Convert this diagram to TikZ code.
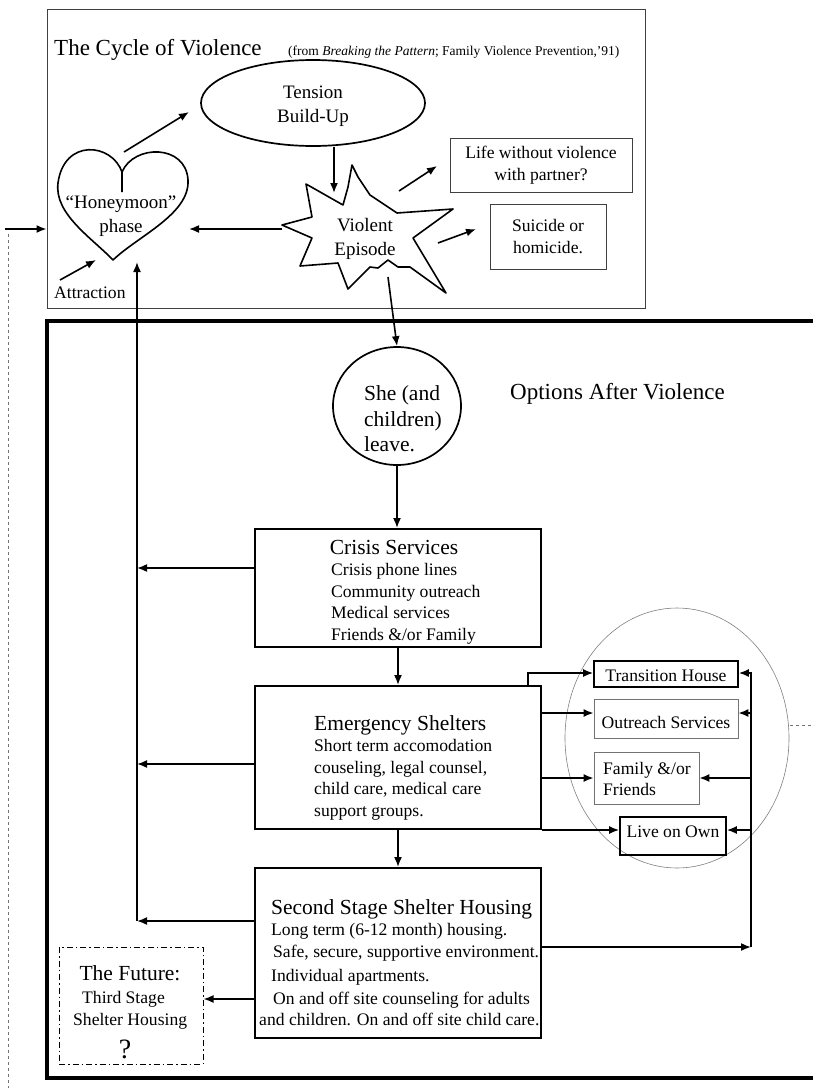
\documentclass[tikz,border=0pt]{standalone}
\usepackage{fontspec}
\setmainfont{Liberation Serif}
\usetikzlibrary{arrows.meta,shapes.geometric}
\newcommand{\fbody}{\fontsize{17.6}{21.6}\selectfont}
\newcommand{\fhead}{\fontsize{21.5}{25.5}\selectfont}
\newcommand{\fbig}{\fontsize{23}{27}\selectfont}
\newcommand{\fcyc}{\fontsize{19}{23.5}\selectfont}
\newcommand{\fsmall}{\fontsize{13.5}{16}\selectfont}
\newcommand{\fq}{\fontsize{28}{30}\selectfont}
\tikzset{
 arr/.style={-{Latex[length=10pt,width=8pt]}, line width=1.6pt},
 thinbox/.style={draw=black!75, line width=0.9pt, inner sep=0pt},
 graybox/.style={draw=black!55, line width=0.8pt, inner sep=0pt},
 medbox/.style={draw, line width=1.7pt, inner sep=0pt},
 bigbox/.style={draw, line width=2pt, inner sep=0pt},
 grayline/.style={draw=black!50, line width=0.6pt},
 txt/.style={inner sep=0pt},
 outline/.style={line width=1.6pt, line join=round},
}
\begin{document}
\begin{tikzpicture}[x=1pt,y=-1pt]
\useasboundingbox (0,0) rectangle (813,1088);
\clip (0,0) rectangle (813,1088);
\fill[white] (0,0) rectangle (813,1088);

% ---------- cycle of violence ----------
\node[thinbox, minimum width=598pt, minimum height=299pt] (cycle) at (346,158.5) {};
\node[txt, anchor=base west, font=\fbig] (title) at (54,55) {The Cycle of Violence};
\node[txt, anchor=base west, font=\fsmall] (src) at (288,55) {(from \textit{Breaking the Pattern}; Family Violence Prevention,’91)};

\node[ellipse, draw, line width=1.7pt, minimum width=224pt, minimum height=86pt, inner sep=0pt] (tension) at (313,103) {};
\node[txt, align=center, font=\fcyc] (tensiontxt) at (313,106) {Tension\\Build-Up};

% heart
\draw[outline] (122,172) .. controls (112,143) and (64,138) .. (58,183)
  .. controls (54,214) and (92,238) .. (113,260)
  .. controls (138,236) and (190,214) .. (188,180)
  .. controls (186,144) and (134,144) .. (122,172) -- (122,192);
\node[txt, align=center, font=\fcyc] (heart) at (121,216) {“Honeymoon”\\phase};

% star
\draw[outline] (352,165) -- (358,177) -- (370,195) -- (397,213) -- (453,209) -- (413,238)
  -- (446,293) -- (410,267) -- (398,267) -- (388,260) -- (378,268) -- (370,267)
  -- (348,289) -- (338,263) -- (300,266) -- (312,238) -- (282,225) -- (312,217)
  -- (306,184) -- (343,205) -- (348,187) -- cycle;
\node[txt, align=center, font=\fcyc] (star) at (365,239) {Violent\\Episode};

\node[thinbox, minimum width=182pt, minimum height=54pt, align=center, font=\fbody] (life) at (541,165) {Life without violence\\with partner?};
\node[thinbox, minimum width=116pt, minimum height=65pt, align=center, font=\fbody] (suicide) at (548,236.5) {Suicide or\\homicide.};
\node[txt, anchor=base west, font=\fbody] (attraction) at (54,298) {Attraction};

\coordinate (heartTop) at (124,152);
\coordinate (tensionL) at (189,112);
\coordinate (heartR) at (189,229);
\coordinate (heartL) at (96,260);
\coordinate (heartTip) at (137,262);
\coordinate (starL) at (282,229);
\coordinate (starB) at (388,277);

\draw[arr] (heartTop) -- (tensionL);
\draw[arr] (tension.south -| 334,0) -- (334,193);
\draw[arr] (399,191) -- (437,166);
\draw[arr] (438,243) -- (476,229);
\draw[arr] (starL) -- (heartR);
\draw[arr] (60,280) -- (heartL);
\draw[arr] (5,229) -- (cycle.west |- 0,229);
\draw[black!55, dashed, line width=0.6pt] (8,234) -- (8,1088);

% ---------- options after violence ----------
\draw[line width=4pt] (830,321) -- (47,321) -- (47,1078) -- (830,1078);
\node[ellipse, draw, line width=1.7pt, minimum width=128pt, minimum height=118pt, inner sep=0pt] (she) at (397,406) {};
\node[txt, anchor=west, align=left, font=\fhead] (shetxt) at (364,419) {She (and\\children)\\leave.};
\node[txt, anchor=base west, font=\fbig] (options) at (510,399) {Options After Violence};

\node[bigbox, minimum width=286pt, minimum height=118pt] (crisis) at (398,588) {};
\node[txt, anchor=base, font=\fhead] at (394,554) {Crisis Services};
\node[txt, anchor=north west, align=left, font=\fbody] at (331,563) {Crisis phone lines\\Community outreach\\Medical services\\Friends \&/or Family};

\node[bigbox, minimum width=286pt, minimum height=143pt] (emergency) at (398,757.5) {};
\node[txt, anchor=base west, font=\fhead] at (314,730) {Emergency Shelters};
\node[txt, anchor=north west, align=left, font=\fbody] at (314,739) {Short term accomodation\\couseling, legal counsel,\\child care, medical care\\support groups.};

\node[bigbox, minimum width=286pt, minimum height=170pt] (second) at (398,953) {};
\node[txt, anchor=base west, font=\fhead] at (271,914) {Second Stage Shelter Housing};
\node[txt, anchor=base west, font=\fbody] at (271,935) {Long term (6-12 month) housing.};
\node[txt, anchor=base west, font=\fbody] at (273,957) {Safe, secure, supportive environment.};
\node[txt, anchor=base west, font=\fbody] at (271,981) {Individual apartments.};
\node[txt, anchor=base west, font=\fbody] at (273,1004) {On and off site counseling for adults};
\node[txt, anchor=base west, font=\fbody] at (259,1025) {and children. On and off site child care.};

\node[draw, line width=1pt, dash pattern=on 6pt off 3pt on 1.5pt off 3pt, inner sep=0pt, minimum width=144pt, minimum height=117pt] (future) at (131,1005.5) {};
\node[txt, anchor=base, font=\fhead] at (130,980) {The Future:};
\node[txt, anchor=base west, font=\fbody] at (82,1003) {Third Stage};
\node[txt, anchor=base west, font=\fbody] at (73,1025) {Shelter Housing};
\node[txt, anchor=base, font=\fq] at (125,1058) {?};

% circle of outcomes
\draw[grayline] (677,738) ellipse [x radius=112, y radius=130];
\draw[black!55, dashed, line width=0.6pt] (790,725) -- (813,725);
\node[medbox, minimum width=144pt, minimum height=26pt] (transition) at (666,674) {};
\node[txt, font=\fbody] at (666,676) {Transition House};
\node[graybox, minimum width=144pt, minimum height=39pt] (outreach) at (666,718.5) {};
\node[txt, font=\fbody] at (666,722) {Outreach Services};
\node[graybox, minimum width=105pt, minimum height=52pt] (family) at (646.5,778) {};
\node[txt, anchor=west, align=left, font=\fbody] at (603,779) {Family \&/or\\Friends};
\node[medbox, minimum width=106pt, minimum height=38pt] (live) at (673,836) {};
\node[txt, font=\fbody] at (673,832) {Live on Own};

% flow arrows
\draw[arr] (starB) -- (she.north);
\draw[arr] (she.south) -- (she.south |- crisis.north);
\draw[arr] (crisis.south) -- (emergency.north);
\draw[arr] (emergency.south) -- (second.north);
\draw[arr] (second.west |- 0,999) -- (future.east |- 0,999);

% return line
\draw[arr] (crisis.west |- 0,568) -- (137,568);
\draw[arr] (emergency.west |- 0,764) -- (137,764);
\draw[arr] (second.west |- 0,921) -- (137,921);
\draw[arr] (137,921) -- (heartTip);

% emergency to outcomes
\draw[arr] (528,686) |- (transition.west |- 0,673);
\draw[arr] (emergency.east |- 0,713) -- (outreach.west |- 0,713);
\draw[arr] (emergency.east |- 0,778) -- (family.west);
\draw[arr] (emergency.east |- 0,830) -- (live.west |- 0,830);

% second stage to outcomes
\coordinate (corner) at (751,947);
\draw[arr] (second.east |- corner) -- (corner);
\draw[line width=1.6pt] (corner) -- (751,672);
\draw[arr] (751,673) -- (transition.east |- 0,673);
\draw[arr] (751,713) -- (outreach.east |- 0,713);
\draw[arr] (751,778) -- (family.east);
\draw[arr] (751,830) -- (live.east |- 0,830);
\end{tikzpicture}
\end{document}
